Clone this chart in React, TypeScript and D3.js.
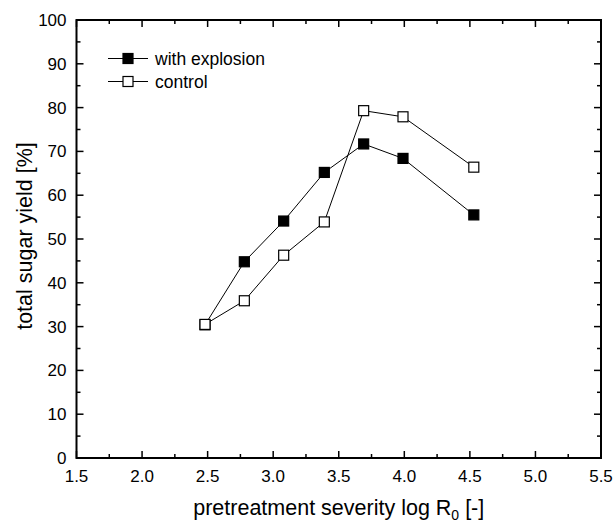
import React, { useEffect, useRef } from 'react';
import * as d3 from 'd3';

const severity = [2.48, 2.78, 3.08, 3.39, 3.69, 3.99, 4.53];
const withExplosion = [30.4, 44.8, 54.1, 65.2, 71.7, 68.4, 55.5];
const control = [30.5, 35.9, 46.3, 53.9, 79.3, 77.9, 66.4];
const xTicks = [1.5, 2.0, 2.5, 3.0, 3.5, 4.0, 4.5, 5.0, 5.5];
const yTicks = [0, 10, 20, 30, 40, 50, 60, 70, 80, 90, 100];
const seriesNames = ['with explosion', 'control'];

const App = () => {
  const ref = useRef<SVGSVGElement | null>(null);

  useEffect(() => {
    if (!ref.current) return;
    const svg = d3.select(ref.current);
    svg.selectAll('*').remove();

    const width = 616;
    const height = 522;
    const margin = { top: 20, right: 15, bottom: 64, left: 76.5 };
    const font = 'Liberation Sans, Arial, sans-serif';

    const x = d3.scaleLinear().domain([1.5, 5.5]).range([margin.left, width - margin.right]);
    const y = d3.scaleLinear().domain([0, 100]).range([height - margin.bottom, margin.top]);
    const [x0, x1] = x.range();
    const [y0, y1] = y.range();

    const xMinor = d3.range(1.75, 5.5, 0.5);
    const yMinor = d3.range(5, 100, 10);

    const g = svg.append('g');

    // ticks, inward on all sides
    const tickG = g.append('g').attr('stroke', '#000').attr('stroke-width', 1.5);
    const major = 7;
    const minor = 4;
    xTicks.forEach(t => {
      tickG.append('line').attr('x1', x(t)).attr('x2', x(t)).attr('y1', y0).attr('y2', y0 - major);
      tickG.append('line').attr('x1', x(t)).attr('x2', x(t)).attr('y1', y1).attr('y2', y1 + major);
    });
    xMinor.forEach(t => {
      tickG.append('line').attr('x1', x(t)).attr('x2', x(t)).attr('y1', y0).attr('y2', y0 - minor);
      tickG.append('line').attr('x1', x(t)).attr('x2', x(t)).attr('y1', y1).attr('y2', y1 + minor);
    });
    yTicks.forEach(t => {
      tickG.append('line').attr('x1', x0).attr('x2', x0 + major).attr('y1', y(t)).attr('y2', y(t));
      tickG.append('line').attr('x1', x1).attr('x2', x1 - major).attr('y1', y(t)).attr('y2', y(t));
    });
    yMinor.forEach(t => {
      tickG.append('line').attr('x1', x0).attr('x2', x0 + minor).attr('y1', y(t)).attr('y2', y(t));
      tickG.append('line').attr('x1', x1).attr('x2', x1 - minor).attr('y1', y(t)).attr('y2', y(t));
    });

    // frame
    g.append('rect')
      .attr('x', x0).attr('y', y1)
      .attr('width', x1 - x0).attr('height', y0 - y1)
      .attr('fill', 'none').attr('stroke', '#000').attr('stroke-width', 2);

    // tick labels
    g.selectAll('.xl').data(xTicks).enter().append('text')
      .attr('x', d => x(d)).attr('y', y0 + 24)
      .attr('text-anchor', 'middle')
      .style('font-family', font).style('font-size', '17px')
      .text(d => d.toFixed(1));
    g.selectAll('.yl').data(yTicks).enter().append('text')
      .attr('x', x0 - 10).attr('y', d => y(d) + 6)
      .attr('text-anchor', 'end')
      .style('font-family', font).style('font-size', '17px')
      .text(d => d);

    // axis titles
    const xt = g.append('text')
      .attr('x', (x0 + x1) / 2).attr('y', 515)
      .attr('text-anchor', 'middle')
      .style('font-family', font).style('font-size', '21.5px');
    xt.append('tspan').text('pretreatment severity log R');
    xt.append('tspan').attr('dy', 5).style('font-size', '14px').text('0');
    xt.append('tspan').attr('dy', -5).text(' [-]');

    g.append('text')
      .attr('transform', `translate(32, ${(y0 + y1) / 2 - 3}) rotate(-90)`)
      .attr('text-anchor', 'middle')
      .style('font-family', font).style('font-size', '21.5px')
      .text('total sugar yield [%]');

    // series
    const line = d3.line<number>().x((d, i) => x(severity[i])).y(d => y(d));
    const series = [
      { values: withExplosion, fill: '#000' },
      { values: control, fill: '#fff' }
    ];
    const s = 10;
    series.forEach(ser => {
      g.append('path').datum(ser.values).attr('d', line)
        .attr('fill', 'none').attr('stroke', '#000').attr('stroke-width', 1);
    });
    series.forEach(ser => {
      g.selectAll(null).data(ser.values).enter().append('rect')
        .attr('x', (d, i) => x(severity[i]) - s / 2)
        .attr('y', d => y(d) - s / 2)
        .attr('width', s).attr('height', s)
        .attr('fill', ser.fill).attr('stroke', '#000').attr('stroke-width', 1.2);
    });

    // legend
    const lg = g.append('g');
    seriesNames.forEach((name, i) => {
      const ly = 58.5 + i * 23;
      lg.append('line').attr('x1', 108).attr('x2', 148).attr('y1', ly).attr('y2', ly)
        .attr('stroke', '#000').attr('stroke-width', 1);
      lg.append('rect').attr('x', 128 - s / 2).attr('y', ly - s / 2).attr('width', s).attr('height', s)
        .attr('fill', series[i].fill).attr('stroke', '#000').attr('stroke-width', 1.2);
      lg.append('text').attr('x', 155).attr('y', ly + 6)
        .style('font-family', font).style('font-size', '17.5px').text(name);
    });
  }, []);

  return (
    <svg
      ref={ref}
      width={616}
      height={522}
      style={{ position: 'absolute', left: 0, top: 0, background: '#fff' }}
    />
  );
};

export default App;
